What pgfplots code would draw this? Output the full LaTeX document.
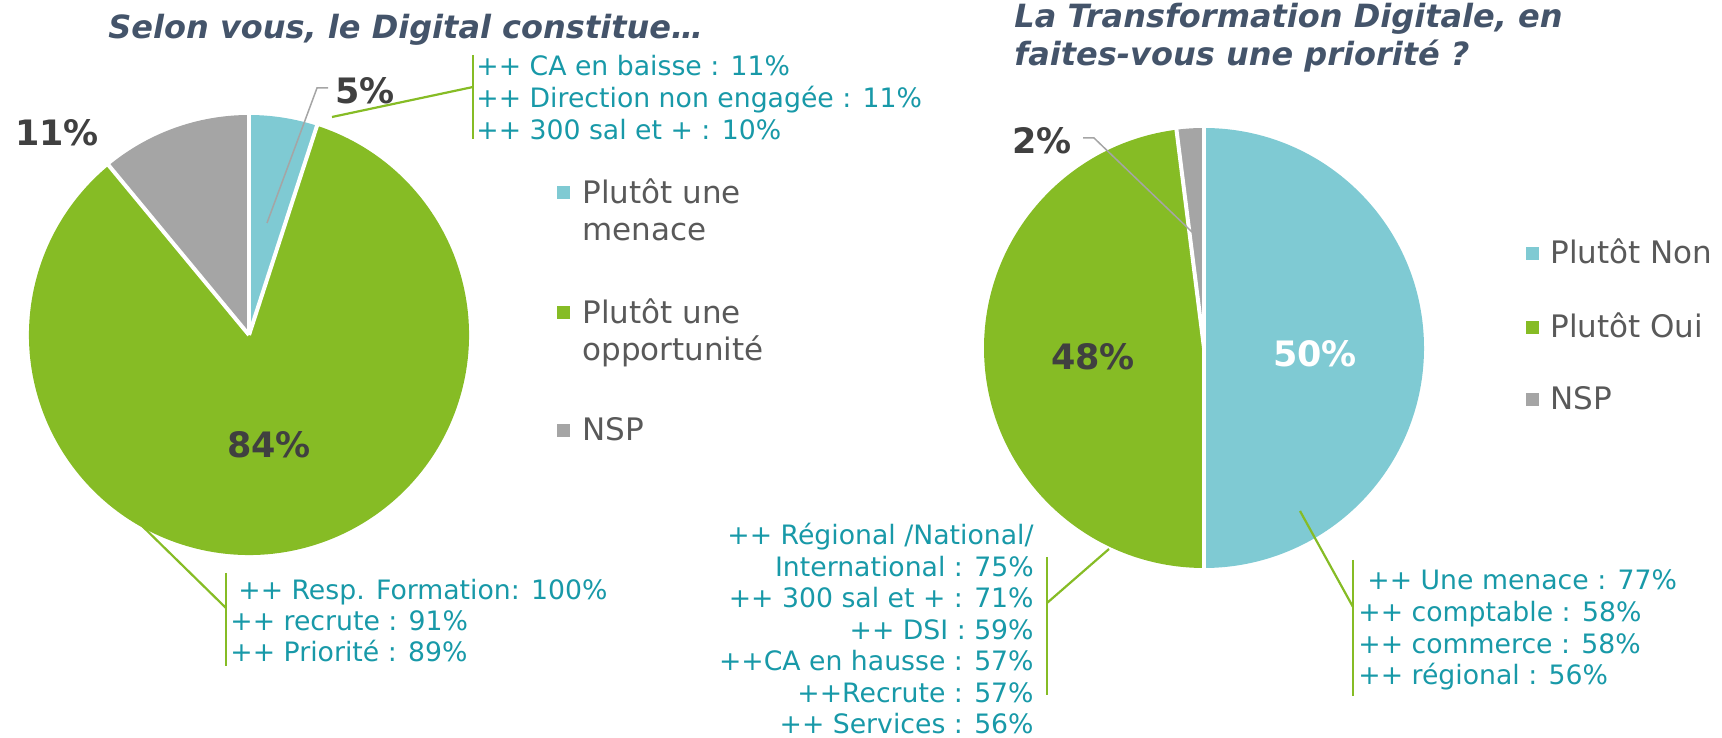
\documentclass[border=0pt]{standalone}
\usepackage{pgfplots}
\pgfplotsset{compat=1.18}
\usepackage{pgfplotstable}
\usepackage{fontspec}
\setmainfont{DejaVu Sans}
\definecolor{pblue}{HTML}{7FCAD3}
\definecolor{pgreen}{HTML}{86BC25}
\definecolor{pgray}{HTML}{A5A5A5}
\definecolor{annot}{HTML}{1899A8}
\definecolor{titlec}{HTML}{44546A}
\definecolor{legc}{HTML}{595959}
\definecolor{pctc}{HTML}{404040}

\pgfplotstableread{
share
5
84
11
}\leftpie
\pgfplotstableread{
share
50
48
2
}\rightpie

\tikzset{
  ann/.style={text=annot,font=\fontsize{13.35}{16}\selectfont,inner sep=0pt},
  leg/.style={text=legc,font=\fontsize{15.5}{18}\selectfont,inner sep=0pt,anchor=base west},
  pct/.style={text=pctc,font=\fontsize{17.5}{20}\selectfont\bfseries,inner sep=0pt,anchor=center},
  ttl/.style={text=titlec,font=\fontsize{16}{19}\selectfont\bfseries\itshape,inner sep=0pt,anchor=base west},
  lead/.style={pgreen,line width=1.1pt},
  glead/.style={pgray,line width=0.75pt},
  sep/.style={white,line width=2pt},
}

\begin{document}
\begin{tikzpicture}
\pgfplotstablegetelem{0}{share}\of\leftpie \let\La\pgfplotsretval
\pgfplotstablegetelem{1}{share}\of\leftpie \let\Lb\pgfplotsretval
\pgfplotstablegetelem{2}{share}\of\leftpie \let\Lc\pgfplotsretval
\pgfplotstablegetelem{0}{share}\of\rightpie \let\Ra\pgfplotsretval
\pgfplotstablegetelem{1}{share}\of\rightpie \let\Rb\pgfplotsretval
\pgfplotstablegetelem{2}{share}\of\rightpie \let\Rc\pgfplotsretval
\pgfmathsetmacro\LA{90-3.6*\La}
\pgfmathsetmacro\LB{\LA-3.6*\Lb}
\pgfmathsetmacro\LC{\LB-3.6*\Lc}
\pgfmathsetmacro\RA{90-3.6*\Ra}
\pgfmathsetmacro\RB{\RA-3.6*\Rb}
\pgfmathsetmacro\RC{\RB-3.6*\Rc}
\begin{axis}[x=0.5pt,y=0.5pt,xmin=0,xmax=1722,ymin=-738,ymax=0,
  hide axis,clip=false]
\path (0,0) rectangle (1722,-738);
% ---- left pie
\fill[pblue]  (249,-335) -- ++(90:110pt)  arc[start angle=90, end angle=\LA,radius=110pt] -- cycle;
\fill[pgreen] (249,-335) -- ++(\LA:110pt) arc[start angle=\LA,end angle=\LB,radius=110pt] -- cycle;
\fill[pgray]  (249,-335) -- ++(\LB:110pt) arc[start angle=\LB,end angle=\LC,radius=110pt] -- cycle;
\draw[sep] (249,-335) -- ++(90:110.5pt);
\draw[sep] (249,-335) -- ++(\LA:110.5pt);
\draw[sep] (249,-335) -- ++(\LB:110.5pt);
% ---- right pie
\fill[pblue]  (1204,-348) -- ++(90:110pt)  arc[start angle=90, end angle=\RA,radius=110pt] -- cycle;
\fill[pgreen] (1204,-348) -- ++(\RA:110pt) arc[start angle=\RA,end angle=\RB,radius=110pt] -- cycle;
\fill[pgray]  (1204,-348) -- ++(\RB:110pt) arc[start angle=\RB,end angle=\RC,radius=110pt] -- cycle;
\draw[sep] (1204,-348) -- ++(90:110.5pt);
\draw[sep] (1204,-348) -- ++(\RA:110.5pt);
\draw[sep] (1204,-348) -- ++(\RB:110.5pt);
% ---- titles
\node[ttl] at (108,-39) {Selon vous, le Digital constitue…};
\node[ttl] at (1014,-28) {La Transformation Digitale, en};
\node[ttl] at (1014,-66) {faites-vous une priorité ?};
% ---- percentages
\node[pct] at (365,-91) {5\%};
\node[pct] at (57,-133) {11\%};
\node[pct] at (269,-445) {84\%};
\node[pct] at (1042,-141) {2\%};
\node[pct] at (1093,-357) {48\%};
\node[pct,text=white] at (1315,-354) {50\%};
% ---- leaders
\draw[glead] (328,-88) -- (317,-88) -- (267,-223);
\draw[glead] (1083,-138) -- (1094,-138) -- (1192,-232);
\draw[lead] (332,-117) -- (473,-87);
\draw[lead] (473,-55) -- (473,-139);
\draw[lead] (132,-516) -- (226,-608);
\draw[lead] (226,-573) -- (226,-666);
\draw[lead] (1109,-549) -- (1047,-603);
\draw[lead] (1047,-557) -- (1047,-695);
\draw[lead] (1300,-511) -- (1353,-607);
\draw[lead] (1353,-560) -- (1353,-696);
% ---- annotations
\node[ann,anchor=base west] at (476,-76) {++ CA en baisse : 11\%};
\node[ann,anchor=base west] at (476,-108) {++ Direction non engagée : 11\%};
\node[ann,anchor=base west] at (476,-140) {++ 300 sal et + : 10\%};
\node[ann,anchor=base west] at (238,-600) {++ Resp. Formation: 100\%};
\node[ann,anchor=base west] at (230,-631) {++ recrute : 91\%};
\node[ann,anchor=base west] at (230,-662) {++ Priorité : 89\%};
\node[ann,anchor=base east] at (1034,-545) {++ Régional /National/};
\node[ann,anchor=base east] at (1034,-576.5) {International : 75\%};
\node[ann,anchor=base east] at (1034,-608) {++ 300 sal et + : 71\%};
\node[ann,anchor=base east] at (1034,-639.5) {++ DSI : 59\%};
\node[ann,anchor=base east] at (1034,-671) {++CA en hausse : 57\%};
\node[ann,anchor=base east] at (1034,-702.5) {++Recrute : 57\%};
\node[ann,anchor=base east] at (1034,-734) {++ Services : 56\%};
\node[ann,anchor=base west] at (1367,-590) {++ Une menace : 77\%};
\node[ann,anchor=base west] at (1358,-622) {++ comptable : 58\%};
\node[ann,anchor=base west] at (1358,-654) {++ commerce : 58\%};
\node[ann,anchor=base west] at (1358,-685) {++ régional : 56\%};
% ---- legends
\fill[pblue]  (557,-186) rectangle (570,-199);
\fill[pgreen] (557,-306) rectangle (570,-319);
\fill[pgray]  (557,-424) rectangle (570,-437);
\node[leg] at (582,-204) {Plutôt une};
\node[leg] at (582,-241) {menace};
\node[leg] at (582,-324) {Plutôt une};
\node[leg] at (582,-361) {opportunité};
\node[leg] at (582,-441) {NSP};
\fill[pblue]  (1526,-247) rectangle (1539,-260);
\fill[pgreen] (1526,-321) rectangle (1539,-334);
\fill[pgray]  (1526,-393) rectangle (1539,-406);
\node[leg] at (1550,-264) {Plutôt Non};
\node[leg] at (1550,-338) {Plutôt Oui};
\node[leg] at (1550,-410) {NSP};
\end{axis}
\end{tikzpicture}
\end{document}
